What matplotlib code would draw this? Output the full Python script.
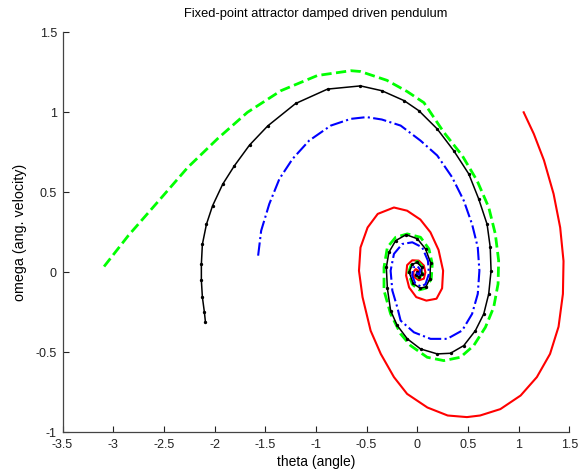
import numpy as np
import matplotlib
matplotlib.use("Agg")
import matplotlib.pyplot as plt

plt.rcParams['font.family'] = ['Liberation Sans', 'DejaVu Sans']

# trajectories (theta, omega)
red_theta = [1.05, 1.15, 1.25, 1.345, 1.41, 1.443, 1.437, 1.394, 1.31, 1.18, 1.02, 0.82, 0.62,
             0.49, 0.30, 0.10, -0.10, -0.23, -0.36, -0.46, -0.54, -0.575, -0.56, -0.49, -0.39,
             -0.23, -0.10, 0.03, 0.13, 0.21, 0.255, 0.245, 0.19, 0.09, -0.01, -0.08, -0.11,
             -0.10, -0.05, 0.015, 0.065, 0.08, 0.065, 0.015, -0.03, -0.04, -0.015, 0.01, 0.0]
red_omega = [1.00, 0.865, 0.70, 0.49, 0.28, 0.07, -0.135, -0.34, -0.51, -0.655, -0.77, -0.855, -0.895,
             -0.905, -0.895, -0.845, -0.76, -0.655, -0.51, -0.365, -0.155, 0.01, 0.155, 0.28, 0.365,
             0.405, 0.385, 0.33, 0.25, 0.14, 0.01, -0.10, -0.165, -0.177, -0.155, -0.095, -0.02,
             0.045, 0.075, 0.073, 0.042, 0.0, -0.04, -0.05, -0.03, 0.0, 0.02, 0.01, 0.0]

green_theta = [-3.09, -2.85, -2.56, -2.265, -1.97, -1.675, -1.345, -0.985, -0.655, -0.56, -0.30, -0.10,
               0.066, 0.262, 0.443, 0.59, 0.705, 0.77, 0.803, 0.797, 0.754, 0.672, 0.557, 0.426,
               0.262, 0.098, -0.066, -0.164, -0.263, -0.328, -0.328, -0.295, -0.213, -0.098, 0.032,
               0.115, 0.148, 0.138, 0.082, 0.02, -0.05, -0.085, -0.055, 0.0, 0.05, 0.05, 0.015,
               -0.015, 0.0]
green_omega = [0.036, 0.23, 0.44, 0.655, 0.835, 1.0, 1.135, 1.23, 1.26, 1.255, 1.20, 1.13,
               1.06, 0.875, 0.73, 0.573, 0.406, 0.24, 0.073, -0.073, -0.219, -0.344, -0.458, -0.531,
               -0.552, -0.531, -0.458, -0.385, -0.26, -0.114, 0.031, 0.156, 0.219, 0.24, 0.219,
               0.146, 0.052, -0.042, -0.10, -0.11, -0.075, 0.0, 0.055, 0.068, 0.035, -0.015, -0.035,
               -0.015, 0.0]

black_theta = [-2.09, -2.10, -2.12, -2.13, -2.13, -2.12, -2.08, -2.02, -1.92, -1.805, -1.655, -1.475,
               -1.20, -0.885, -0.56, -0.35, -0.13, 0.016, 0.197, 0.36, 0.508, 0.606, 0.689, 0.72,
               0.728, 0.705, 0.656, 0.574, 0.459, 0.328, 0.197, 0.032, -0.098, -0.20, -0.263,
               -0.295, -0.305, -0.28, -0.213, -0.11, 0.0, 0.082, 0.131, 0.125, 0.085, 0.03, -0.04,
               -0.08, -0.05, 0.0, 0.045, 0.045, 0.015, -0.015, 0.0]
black_omega = [-0.31, -0.25, -0.155, -0.05, 0.05, 0.175, 0.30, 0.415, 0.55, 0.665, 0.795, 0.915,
               1.055, 1.145, 1.165, 1.135, 1.073, 1.01, 0.896, 0.76, 0.615, 0.459, 0.30, 0.156,
               0.01, -0.135, -0.26, -0.364, -0.458, -0.506, -0.51, -0.479, -0.416, -0.33, -0.239,
               -0.10, 0.03, 0.125, 0.198, 0.235, 0.21, 0.146, 0.06, -0.04, -0.09, -0.10, -0.07,
               0.0, 0.05, 0.062, 0.03, -0.01, -0.03, -0.015, 0.0]

blue_theta = [-1.57, -1.54, -1.46, -1.36, -1.23, -1.067, -0.853, -0.656, -0.50, -0.35, -0.164, 0.032,
              0.197, 0.344, 0.459, 0.541, 0.597, 0.613, 0.597, 0.541, 0.443, 0.295, 0.131, -0.033,
              -0.164, -0.197, -0.246, -0.263, -0.23, -0.148, -0.049, 0.049, 0.105, 0.115, 0.082,
              0.04, -0.02, -0.05, -0.04, 0.0, 0.03, 0.02, 0.0, 0.0]
blue_omega = [0.104, 0.26, 0.427, 0.584, 0.709, 0.823, 0.917, 0.959, 0.97, 0.955, 0.917, 0.823,
              0.73, 0.594, 0.448, 0.30, 0.156, 0.01, -0.135, -0.26, -0.364, -0.416, -0.416, -0.375,
              -0.302, -0.219, -0.114, 0.01, 0.115, 0.177, 0.1875, 0.156, 0.073, -0.01, -0.073,
              -0.09, -0.07, -0.02, 0.03, 0.04, 0.015, -0.015, -0.01, 0.0]

xticks = [-3.5, -3, -2.5, -2, -1.5, -1, -0.5, 0, 0.5, 1, 1.5]
yticks = [-1, -0.5, 0, 0.5, 1, 1.5]

fig = plt.figure(figsize=(5.81, 4.74), dpi=100)
ax = fig.add_axes([62.5/581, 1 - 432.3/474, (569.3 - 62.5)/581, 400/474])

ax.plot(red_theta, red_omega, color='red', lw=1.5)
ax.plot(green_theta, green_omega, color=(0, 1, 0), lw=2, ls='--')
ax.plot(black_theta, black_omega, color='black', lw=1.1, marker='.', ms=2.8)
ax.plot(blue_theta, blue_omega, color='blue', lw=1.5, ls='-.')

ax.set_xlim(-3.5, 1.5)
ax.set_ylim(-1, 1.5)
ax.set_xticks(xticks)
ax.set_xticklabels([('%g' % t) for t in xticks], fontsize=9)
ax.set_yticks(yticks)
ax.set_yticklabels([('%g' % t) for t in yticks], fontsize=9)
ax.tick_params(direction='in', length=4, width=0.8, colors='#222222')
ax.tick_params(axis='x', pad=5)
ax.tick_params(axis='y', pad=4)
ax.spines['top'].set_visible(False)
ax.spines['right'].set_visible(False)
for s in ('left', 'bottom'):
    ax.spines[s].set_color('#444444')
    ax.spines[s].set_linewidth(0.9)

ax.set_title('Fixed-point attractor damped driven pendulum', fontsize=9.3, pad=11)
ax.set_xlabel('theta (angle)', fontsize=10, labelpad=3)
ax.set_ylabel('omega (ang. velocity)', fontsize=10.3, labelpad=6)

fig.savefig('out.png', dpi=100)
